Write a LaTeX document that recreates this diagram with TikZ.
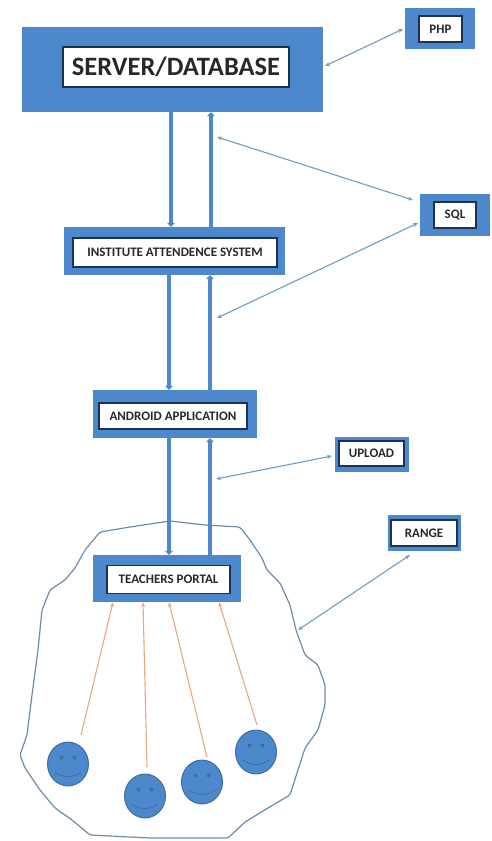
\documentclass[tikz,border=0pt]{standalone}
\usepackage{fontspec}
\setmainfont{Carlito}
\usetikzlibrary{arrows.meta,calc}
\definecolor{boxblue}{HTML}{4C88CB}
\definecolor{inkblue}{HTML}{1B3350}
\definecolor{thinblue}{HTML}{6F9DC8}
\definecolor{blobline}{HTML}{6C8CA8}
\definecolor{peach}{HTML}{EDA77E}
\definecolor{facerim}{HTML}{3F6C9E}
\definecolor{txt}{HTML}{26282C}
\newcommand{\smalltxt}{\bfseries\fontsize{13}{15}\selectfont}
\tikzset{
  outerbox/.style={fill=boxblue,draw=none,inner sep=0pt},
  innerbox/.style={fill=white,draw=inkblue,line width=1.2pt,inner sep=0pt,text=txt,align=center},
  trunk/.style={draw=boxblue,line width=4.5pt,-{Triangle[length=4pt,width=8pt,fill=boxblue]}},
  trunkback/.style={draw=boxblue,line width=4.5pt,{Triangle[length=4pt,width=8pt,fill=boxblue]}-},
  linkline/.style={draw=thinblue,line width=1.1pt,{Stealth[length=5pt,width=4pt]}-{Stealth[length=5pt,width=4pt]}},
  userline/.style={draw=peach,line width=1.1pt,-{Stealth[length=5pt,width=4pt,fill=peach!70!black]}},
  face/.style={circle,fill=boxblue,draw=facerim,line width=1pt,minimum width=41pt,inner sep=0pt,yscale=1.07},
  eye/.style={fill=facerim},
  smile/.style={draw=facerim,line width=.7pt},
}
\newcommand{\smiley}[1]{%
  \fill[eye] ($(#1)+(-6.5,-6.5)$) circle (2pt);
  \fill[eye] ($(#1)+(6.5,-6.5)$) circle (2pt);
  \draw[smile] ($(#1)+(-13,8)$) .. controls ($(#1)+(-5,14)$) and ($(#1)+(5,14)$) .. ($(#1)+(13,8)$);
}
\begin{document}
\begin{tikzpicture}[x=1pt,y=-1pt]
\useasboundingbox[fill=white] (0,0) rectangle (491,841);
% range outline
\draw[blobline,line width=1.2pt,rounded corners=2.5pt]
 (170,521) -- (205,525) -- (240,527) -- (250,540) -- (262,558) -- (267,570) -- (280,583) -- (290,605)
 -- (296,630) -- (305,655) -- (318,665) -- (325,685) -- (325,705) -- (318,730) -- (305,748) -- (298,770)
 -- (290,795) -- (268,808) -- (245,822) -- (228,838) -- (190,838) -- (150,838) -- (90,835) -- (72,820)
 -- (55,808) -- (40,790) -- (25,768) -- (20,755) -- (27,735) -- (32,695) -- (38,650) -- (42,610)
 -- (50,590) -- (65,580) -- (75,568) -- (85,550) -- (100,532) -- (130,527) -- cycle;
% outer boxes
\node[outerbox,minimum width=301pt,minimum height=85pt] (server) at (172.5,69.5) {};
\node[outerbox,minimum width=70pt,minimum height=41pt] (php) at (440,28.5) {};
\node[outerbox,minimum width=70pt,minimum height=42pt] (sql) at (455,215) {};
\node[outerbox,minimum width=221pt,minimum height=48pt] (ias) at (174.5,251) {};
\node[outerbox,minimum width=164pt,minimum height=48pt] (android) at (175,414) {};
\node[outerbox,minimum width=74pt,minimum height=35pt] (upload) at (372,454.5) {};
\node[outerbox,minimum width=73pt,minimum height=36pt] (range) at (424.5,533) {};
\node[outerbox,minimum width=148pt,minimum height=47pt] (portal) at (167,578.5) {};
% inner boxes
\node[innerbox,minimum width=226pt,minimum height=40pt,font=\bfseries\fontsize{26.5}{28}\selectfont] (serverT) at (176,67) {SERVER/DATABASE};
\node[innerbox,minimum width=43pt,minimum height=26pt,font=\smalltxt] (phpT) at (440.5,29) {PHP};
\node[innerbox,minimum width=42pt,minimum height=26pt,font=\smalltxt] (sqlT) at (455,215) {SQL};
\node[innerbox,minimum width=204pt,minimum height=29pt,font=\smalltxt] (iasT) at (175,252.5) {INSTITUTE ATTENDENCE SYSTEM};
\node[innerbox,minimum width=148pt,minimum height=26pt,font=\smalltxt] (androidT) at (173,416) {ANDROID APPLICATION};
\node[innerbox,minimum width=65pt,minimum height=25pt,font=\smalltxt] (uploadT) at (371.5,453.5) {UPLOAD};
\node[innerbox,minimum width=66pt,minimum height=26pt,font=\smalltxt] (rangeT) at (424,533) {RANGE};
\node[innerbox,minimum width=123pt,minimum height=28pt,font=\smalltxt] (portalT) at (168.5,579.5) {TEACHERS PORTAL};
% trunks
\draw[trunk] (171,0 |- server.south) -- (171,0 |- ias.north);
\draw[trunkback] (211,0 |- server.south) -- (211,0 |- ias.north);
\draw[trunk] (169,0 |- ias.south) -- (169,0 |- android.north);
\draw[trunkback] (210,0 |- ias.south) -- (210,0 |- android.north);
\draw[trunk] (169,0 |- android.south) -- (169,0 |- portal.north);
\draw[trunkback] (210,0 |- android.south) -- (210,0 |- portal.north);
% side links
\coordinate (phpA) at (325,66); \coordinate (phpB) at (403,29);
\coordinate (sqlA) at (217,137); \coordinate (sqlB) at (413,200);
\coordinate (sqlC) at (217,318); \coordinate (sqlD) at (418,223);
\coordinate (upA) at (216,479); \coordinate (upB) at (332,456);
\coordinate (rangeA) at (298,630); \coordinate (rangeB) at (410,555);
\draw[linkline] (phpA) -- (phpB);
\draw[linkline] (sqlA) -- (sqlB);
\draw[linkline] (sqlC) -- (sqlD);
\draw[linkline] (upA) -- (upB);
\draw[linkline] (rangeA) -- (rangeB);
% faces
\node[face] (f1) at (68,764) {};
\node[face] (f2) at (145,796) {};
\node[face] (f3) at (202,782) {};
\node[face] (f4) at (256,752) {};
\smiley{f1}\smiley{f2}\smiley{f3}\smiley{f4}
\coordinate (u1) at (81,735);
\coordinate (u2) at (147,767);
\coordinate (u3) at (207,757);
\coordinate (u4) at (257,725);
\draw[userline] (u1) -- (113,0 |- portal.south);
\draw[userline] (u2) -- (143,0 |- portal.south);
\draw[userline] (u3) -- (169,0 |- portal.south);
\draw[userline] (u4) -- (219,0 |- portal.south);
\end{tikzpicture}
\end{document}
